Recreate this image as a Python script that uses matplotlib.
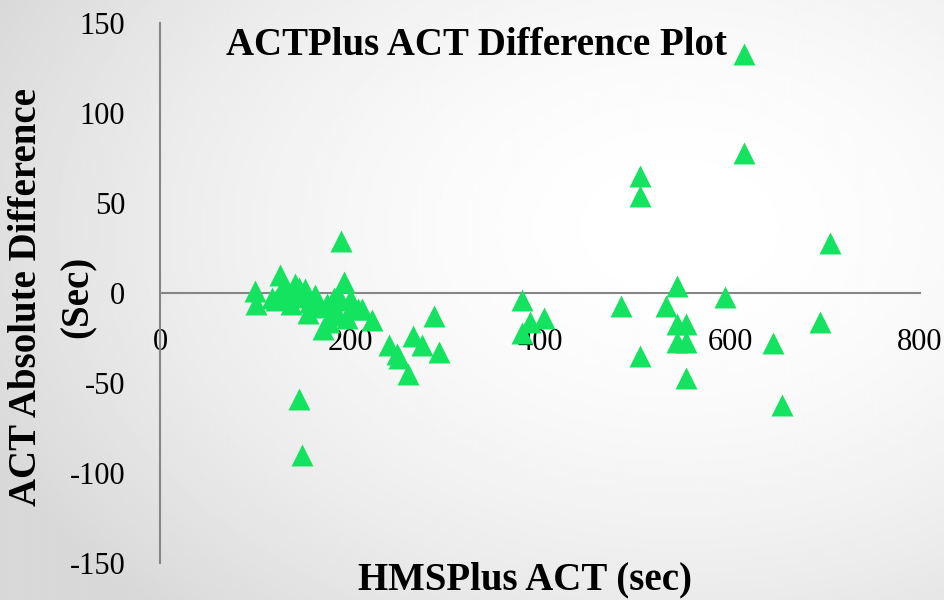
import matplotlib.pyplot as plt
import numpy as np

# HMSPlus ACT (sec) vs ACT absolute difference (sec)
hms_act = [100, 101, 118, 122, 126, 128, 131, 135, 138, 142, 146, 150, 153, 156,
           158, 163, 168, 172, 176, 178, 180, 183, 186, 187, 191, 194, 197, 200,
           203, 208, 213, 223, 146, 149,
           241, 249, 252, 261, 266, 276, 288, 294,
           381, 389, 404, 381,
           485, 505, 505, 505, 533, 544, 544, 554, 544, 554, 554, 595, 615, 615,
           645, 655, 695, 705]
act_diff = [1, -6, -3, -4, 10, 2, -3, 0, -6, 5, 3, -2, 2, -11,
            -5, -1, -8, -20, -6, -16, -12, -3, -11, -1, 29, 6, -14, -4,
            -6, -9, -9, -15, -59, -90,
            -29, -34, -36, -45, -24, -29, -13, -33,
            -4, -16, -14, -22,
            -7, 65, 54, -35, -7, 4, -17, -17, -27, -27, -47, -2, 133, 78,
            -28, -62, -16, 28]

x_ticks = [0, 200, 400, 600, 800]
y_ticks = [-150, -100, -50, 0, 50, 100, 150]

plt.rcParams['axes.unicode_minus'] = False
serif = ['Liberation Serif', 'DejaVu Serif']

fig = plt.figure(figsize=(9.45, 6), dpi=100)

# soft grey-to-white background like the slide
bg = fig.add_axes([0, 0, 1, 1], zorder=-1)
gx, gy = np.meshgrid(np.linspace(0, 1, 400), np.linspace(0, 1, 300))
r = np.sqrt(((gx - 0.72) / 1.0) ** 2 + ((gy - 0.62) / 1.1) ** 2)
shade = 1 - 0.15 * np.clip(r / 0.8, 0, 1) ** 1.8
bg.imshow(shade, cmap='gray', vmin=0, vmax=1, extent=[0, 1, 0, 1],
          origin='lower', aspect='auto')
bg.axis('off')

ax = fig.add_axes([160 / 945, 37 / 600, 760 / 945, 540 / 600])
ax.patch.set_alpha(0)

ax.scatter(hms_act, act_diff, marker='^', s=250, color='#13e35f',
           linewidths=0, zorder=3, clip_on=False)

ax.set_xlim(0, 800)
ax.set_ylim(-150, 150)
ax.set_xticks(x_ticks)
ax.set_yticks(y_ticks)

for s in ['top', 'right']:
    ax.spines[s].set_visible(False)
ax.spines['bottom'].set_position(('data', 0))
ax.spines['bottom'].set_color('#868686')
ax.spines['bottom'].set_linewidth(1.5)
ax.spines['left'].set_color('#868686')
ax.spines['left'].set_linewidth(1.5)

ax.tick_params(axis='x', length=0, pad=25, labelsize=22)
ax.tick_params(axis='y', length=0, pad=25, labelsize=22)
for lab in ax.get_xticklabels() + ax.get_yticklabels():
    lab.set_family(serif)

ax.set_title('ACTPlus ACT Difference Plot', fontsize=28, fontweight='bold',
             family=serif, x=(476 - 160) / 760, y=0.925)
fig.text(525 / 945, 1 - 580 / 600, 'HMSPlus ACT (sec)', fontsize=28,
         fontweight='bold', family=serif, ha='center', va='center')
fig.text(27 / 945, 1 - 297 / 600, 'ACT Absolute Difference', fontsize=28,
         fontweight='bold', family=serif, ha='center', va='center', rotation=90)
fig.text(78 / 945, 1 - 297 / 600, '(Sec)', fontsize=28,
         fontweight='bold', family=serif, ha='center', va='center', rotation=90)

fig.savefig('out.png', dpi=100)
